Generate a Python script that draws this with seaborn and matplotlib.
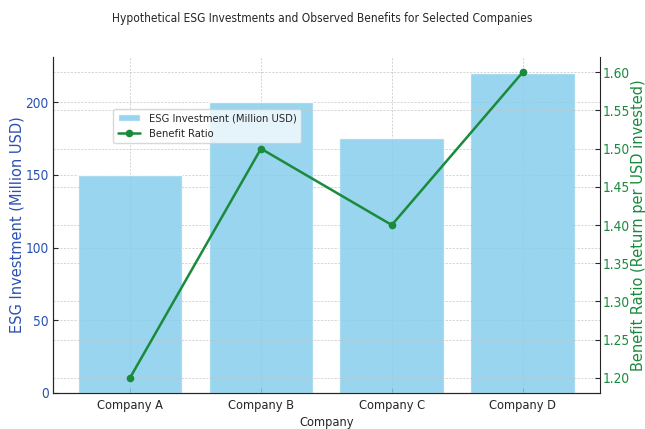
import numpy as np
import pandas as pd
import seaborn as sns
import matplotlib.pyplot as plt

companies = ["Company A", "Company B", "Company C", "Company D"]
investment = [150, 200, 175, 220]
benefit_ratio = [1.20, 1.50, 1.40, 1.60]

df = pd.DataFrame({"Company": companies, "Investment": investment, "Benefit": benefit_ratio})
df["pos"] = np.arange(len(df))

sns.set_style("white")
plt.rcParams['font.family'] = ['DejaVu Sans']

blue = '#2b50b4'
green = '#1a8a3c'
narrow = dict(family='DejaVu Sans', stretch='condensed')

fig, ax1 = plt.subplots(figsize=(6.45, 4.29), dpi=100)
fig.subplots_adjust(left=0.082, right=0.930, top=0.867, bottom=0.084)

sns.barplot(data=df, x="pos", y="Investment", ax=ax1, color='skyblue', alpha=0.85,
            width=0.8, native_scale=True, saturation=1, label="ESG Investment (Million USD)")
ax1.set_xlim(-0.59, 3.59)
ax1.set_ylim(0, 231)
ax1.set_xticks(df["pos"])
ax1.set_xticklabels(companies, fontsize=9.2, **narrow)
ax1.set_xlabel("Company", fontsize=9.2, labelpad=3, **narrow)
ax1.set_ylabel("ESG Investment (Million USD)", color=blue, fontsize=10.5)
ax1.yaxis.set_label_coords(-0.052, 0.5)
ax1.tick_params(axis='y', labelcolor=blue, labelsize=9.8, left=True, length=3.5,
                direction='in', pad=3)
ax1.tick_params(axis='x', bottom=True, length=3.5, direction='in', pad=4)
for lab in ax1.get_yticklabels():
    lab.set_fontstretch('condensed')
ax1.grid(True, linestyle=(0, (3, 2)), color='#c4c4c4', linewidth=0.5)
ax1.spines['top'].set_visible(False)

ax2 = ax1.twinx()
sns.lineplot(data=df, x="pos", y="Benefit", ax=ax2, color=green, marker='o',
             markersize=5.5, linewidth=1.8, markeredgewidth=0, label="Benefit Ratio")
ax2.set_ylim(1.18, 1.62)
ax2.set_yticks(np.arange(1.20, 1.61, 0.05))
ax2.set_ylabel("Benefit Ratio (Return per USD invested)", color=green, fontsize=10.5)
ax2.yaxis.set_label_coords(1.057, 0.5)
ax2.tick_params(axis='y', labelcolor=green, labelsize=9.8, right=True, length=3.5,
                direction='in', pad=2)
ax2.yaxis.set_major_formatter(plt.FormatStrFormatter('%.2f'))
for lab in ax2.get_yticklabels():
    lab.set_fontstretch('condensed')
ax2.grid(True, linestyle=(0, (3, 2)), color='#c4c4c4', linewidth=0.5)
ax2.spines['top'].set_visible(False)
ax2.spines['right'].set_visible(False)

h1, l1 = ax1.get_legend_handles_labels()
h2, l2 = ax2.get_legend_handles_labels()
if ax1.get_legend():
    ax1.get_legend().remove()
ax2.legend(h1 + h2, l1 + l2, loc='upper left', bbox_to_anchor=(0.1, 0.862),
           prop=dict(family='DejaVu Sans', stretch='condensed', size=8),
           framealpha=0.75, borderpad=0.4, handlelength=2.0)

fig.suptitle("Hypothetical ESG Investments and Observed Benefits for Selected Companies",
             fontsize=8.6, y=0.972, **narrow)

fig.savefig("out.png", dpi=100)
